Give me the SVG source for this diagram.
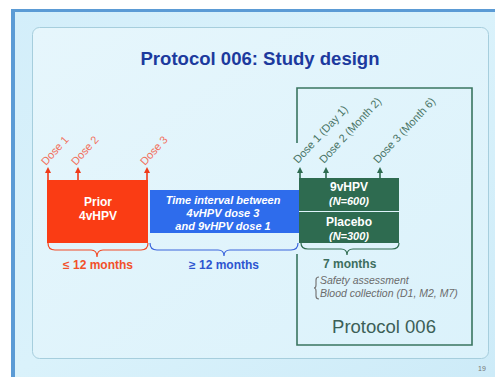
<svg xmlns="http://www.w3.org/2000/svg" width="495" height="377" viewBox="0 0 495 377">
<defs>
<linearGradient id="bg" x1="0" y1="0" x2="1" y2="1">
<stop offset="0" stop-color="#d3eefa"/>
<stop offset="0.5" stop-color="#daf2fb"/>
<stop offset="1" stop-color="#cdebf8"/>
</linearGradient>
<linearGradient id="panel" x1="0" y1="0" x2="1" y2="1">
<stop offset="0" stop-color="#e6f6fc"/>
<stop offset="1" stop-color="#dbf2fb"/>
</linearGradient>
<marker id="ahR" markerWidth="6" markerHeight="6" refX="3" refY="3" orient="auto" markerUnits="userSpaceOnUse">
<path d="M0,0 L6,3 L0,6 Z" fill="#f03a18"/>
</marker>
<marker id="ahG" markerWidth="6" markerHeight="6" refX="3" refY="3" orient="auto" markerUnits="userSpaceOnUse">
<path d="M0,0 L6,3 L0,6 Z" fill="#2e6b50"/>
</marker>
</defs>
<style>
text{font-family:"Liberation Sans",Arial,sans-serif}
.title{font-size:19px;font-weight:bold;fill:#1c3a9e}
.doseR{font-size:11px;fill:#f2705c}
.doseG{font-size:11px;fill:#4a7466}
.wb{font-size:12px;font-weight:bold;fill:#ffffff}
.wbi{font-size:11px;font-weight:bold;font-style:italic;fill:#ffffff}
.lbl{font-size:12px;font-weight:bold}
.note{font-size:10.5px;font-style:italic;fill:#6b6b6b}
.brace{fill:none;stroke-width:1.2}
.arR{stroke:#f03a18;stroke-width:1.6;fill:none}
.arG{stroke:#2e6b50;stroke-width:1.6;fill:none}
</style>
<rect x="0" y="0" width="495" height="377" fill="#ffffff"/>
<rect x="11" y="9" width="484" height="368" fill="url(#bg)"/>
<rect x="11" y="9" width="484" height="3" fill="#5b9bd5"/>
<rect x="11" y="9" width="4" height="368" fill="#5b9bd5"/>
<rect x="32.5" y="27.5" width="456" height="331" rx="7" fill="url(#panel)" stroke="#a6cedd" stroke-width="1"/>
<text class="title" x="260" y="65" text-anchor="middle" textLength="239" lengthAdjust="spacingAndGlyphs">Protocol 006: Study design</text>

<g id="protocol006">
<path d="M297,143 V88 H472 V345 H297 V254" fill="none" stroke="#3a7560" stroke-width="1.6"/>
<text x="384" y="333" text-anchor="middle" font-size="18.5" fill="#3c5f57">Protocol 006</text>
</g>

<g id="prior">
<rect x="47" y="180" width="101" height="63" fill="#fa3c14"/>
<text class="wb" x="98" y="206" text-anchor="middle">Prior</text>
<text class="wb" x="98" y="220" text-anchor="middle">4vHPV</text>
</g>

<g id="interval">
<rect x="150" y="190" width="149" height="43" fill="#2e6cec"/>
<text class="wbi" x="223" y="203.5" text-anchor="middle">Time interval between</text>
<text class="wbi" x="223" y="216.5" text-anchor="middle">4vHPV dose 3</text>
<text class="wbi" x="223" y="230" text-anchor="middle">and 9vHPV dose 1</text>
</g>

<g id="vaccine">
<rect x="299" y="178" width="100" height="33" fill="#2e6b50"/>
<text class="wb" x="349" y="191" text-anchor="middle">9vHPV</text>
<text class="wbi" x="349" y="204.5" text-anchor="middle" font-size="12">(N=600)</text>
</g>

<g id="placebo">
<rect x="299" y="212" width="100" height="31" fill="#2e6b50"/>
<text class="wb" x="349" y="226" text-anchor="middle">Placebo</text>
<text class="wbi" x="349" y="240" text-anchor="middle" font-size="12">(N=300)</text>
</g>

<g id="connectors">
<line class="arR" x1="48" y1="180" x2="48" y2="170" marker-end="url(#ahR)"/>
<line class="arR" x1="78" y1="180" x2="78" y2="170" marker-end="url(#ahR)"/>
<line class="arR" x1="147" y1="180" x2="147" y2="170" marker-end="url(#ahR)"/>
<line class="arG" x1="300" y1="178" x2="300" y2="170" marker-end="url(#ahG)"/>
<line class="arG" x1="326" y1="178" x2="326" y2="170" marker-end="url(#ahG)"/>
<line class="arG" x1="380" y1="178" x2="380" y2="170" marker-end="url(#ahG)"/>
<path class="brace" stroke="#f24a26" d="M48,243 Q48,250 55,250 H91 Q97,250 97,257 Q97,250 103,250 H141 Q148,250 148,243"/>
<path class="brace" stroke="#3a64dc" d="M150,243 Q150,250 157,250 H218 Q224,250 224,256 Q224,250 230,250 H291 Q298,250 298,243"/>
<path class="brace" stroke="#2e6b50" d="M301,243 Q301,249 308,249 H341 Q347,249 347,255 Q347,249 353,249 H392 Q399,249 399,243"/>
<path class="brace" stroke="#777777" stroke-width="0.9" d="M319,277 Q316,277 316,280 V285 Q316,288 314,288 Q316,288 316,291 V296 Q316,299 319,299"/>
</g>

<g id="doseLabels">
<text class="doseR" transform="translate(46,166) rotate(-48)">Dose 1</text>
<text class="doseR" transform="translate(76,166) rotate(-48)">Dose 2</text>
<text class="doseR" transform="translate(145,166) rotate(-48)">Dose 3</text>
<text class="doseG" transform="translate(298,164) rotate(-47)">Dose 1 (Day 1)</text>
<text class="doseG" transform="translate(324,164) rotate(-47)">Dose 2 (Month 2)</text>
<text class="doseG" transform="translate(378,164) rotate(-47)">Dose 3 (Month 6)</text>
</g>

<g id="durations">
<text class="lbl" x="98" y="269" text-anchor="middle" fill="#f2502a">≤ 12 months</text>
<text class="lbl" x="224" y="269" text-anchor="middle" fill="#2d55d0">≥ 12 months</text>
<text class="lbl" x="323" y="268" fill="#3c6e5e">7 months</text>
<text class="note" x="320" y="284">Safety assessment</text>
<text class="note" x="320" y="297">Blood collection (D1, M2, M7)</text>
</g>

<text x="478" y="371" font-size="7" fill="#777777">19</text>
</svg>
